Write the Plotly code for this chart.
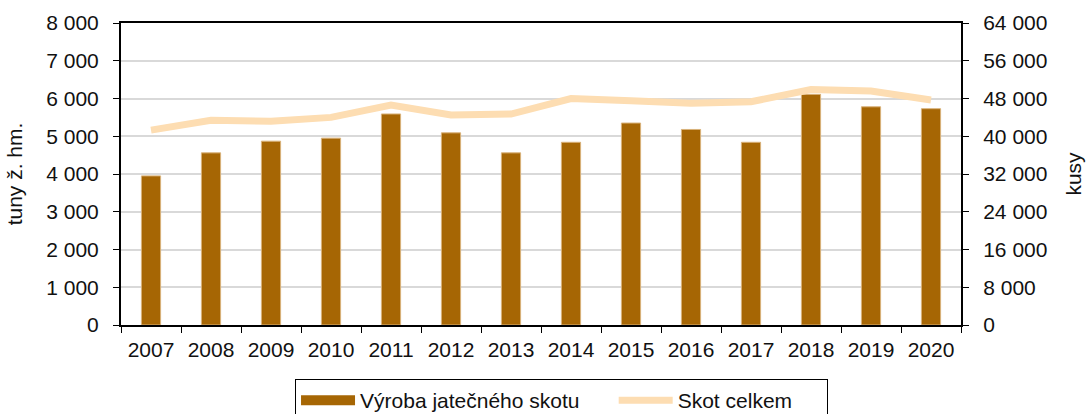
import plotly.graph_objects as go

years = ["2007", "2008", "2009", "2010", "2011", "2012", "2013",
         "2014", "2015", "2016", "2017", "2018", "2019", "2020"]
vyroba = [3950, 4560, 4870, 4950, 5590, 5090, 4560,
          4840, 5350, 5180, 4840, 6110, 5780, 5730]
skot = [41300, 43400, 43200, 44000, 46600, 44500, 44700,
        48000, 47500, 47000, 47300, 49900, 49600, 47700]

bar_name = "Výroba jatečného skotu"
line_name = "Skot celkem"
bar_color = "#A66604"
line_color = "#FDDDB2"
font = dict(family="Liberation Sans, Arial, sans-serif", size=21, color="#111111")

fig = go.Figure()
fig.add_trace(go.Bar(x=years, y=vyroba, name=bar_name, marker=dict(color=bar_color,
                     line=dict(color="#D9B27A", width=1)), width=0.32, showlegend=False))
# legend proxy for the bar series (wide rectangle-like icon)
fig.add_trace(go.Scatter(x=[None], y=[None], mode="lines", name=bar_name + "\u00a0" * 5,
                         line=dict(color=bar_color, width=10)))
fig.add_trace(go.Scatter(x=years, y=skot, name=line_name + "\u00a0" * 5, mode="lines",
                         yaxis="y2", line=dict(color=line_color, width=7)))

fig.update_layout(
    width=1087, height=414,
    margin=dict(l=121, r=126, t=23, b=89, autoexpand=False),
    paper_bgcolor="white", plot_bgcolor="white",
    font=font,
    separators=", ",
    xaxis=dict(type="category", showline=True, linecolor="black", linewidth=2,
               ticks="outside", tickson="boundaries", ticklen=6, tickcolor="black",
               mirror=True, showgrid=False, tickfont=font, automargin=False,
               ticklabelstandoff=5),
    yaxis=dict(range=[0, 8000], dtick=1000, tickformat=",d", showline=True,
               linecolor="black", linewidth=2, ticks="outside", ticklen=6,
               tickcolor="black", gridcolor="#D9D9D9", gridwidth=2,
               title=dict(text="tuny ž. hm.", font=font, standoff=18),
               zeroline=False, tickfont=font, automargin=False,
               ticklabelstandoff=10),
    yaxis2=dict(range=[0, 64000], dtick=8000, tickformat=",d", overlaying="y",
                side="right", showline=True, linecolor="black", linewidth=2,
                ticks="outside", ticklen=6, tickcolor="black", showgrid=False,
                title=dict(text="kusy", font=font, standoff=20),
                zeroline=False, tickfont=font, automargin=False,
                ticklabelstandoff=10),
    legend=dict(orientation="h", x=0.8417, xanchor="right", y=-0.179, yanchor="top",
                bordercolor="black", borderwidth=1, font=font, itemwidth=54,
                traceorder="normal"),
    bargap=0.68,
)

fig.write_html("out.html", config={"displayModeBar": False},
               post_script="document.body.style.margin='0';")
